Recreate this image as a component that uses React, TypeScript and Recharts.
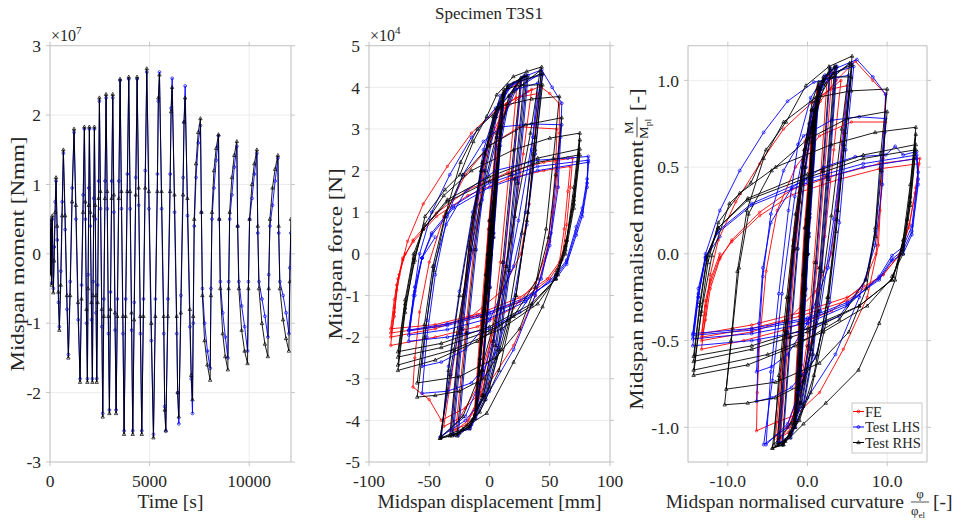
import React from 'react';
import { ScatterChart, Scatter, XAxis, YAxis, CartesianGrid } from 'recharts';

const FONT = '"Liberation Serif", "Times New Roman", serif';
const AX = '#c4c4c4';
const GRID = '#ececec';
const TXT = '#262626';

// ---------- Panel 1: time vs midspan moment (x10^7 Nmm) ----------
const timeTicks = [0, 5000, 10000];
const momentTicks = [-3, -2, -1, 0, 1, 2, 3];
const rhsTimeMoment = [
  0,0, 15,0.35, 30,-0.3, 50,0.5, 80,-0.45, 117,0.55, 167,-0.56,
  210,-0.1, 260,0.6, 302,1.1, 360,0.4, 420,-0.55, 469,-1.1,
  540,-0.45, 610,0.55, 670,1.5, 760,0.55, 850,-0.6, 921,-1.5,
  1010,-0.6, 1110,0.75, 1206,1.8, 1300,0.7, 1410,-0.7, 1508,-1.85,
  1580,-0.65, 1660,0.6, 1725,1.83, 1775,0.75, 1830,-0.8, 1876,-1.85,
  1910,-0.5, 1945,0.7, 1976,1.83, 2025,0.6, 2080,-0.7, 2127,-1.85,
  2160,-0.6, 2195,0.55, 2228,1.83, 2270,0.7, 2310,-0.6, 2345,-1.85,
  2390,-0.7, 2440,0.8, 2479,2.25, 2535,0.9, 2600,-0.8, 2647,-2.35,
  2700,-0.9, 2760,0.8, 2814,2.3, 2870,0.9, 2930,-0.9, 2982,-2.3,
  3035,-0.8, 3095,0.8, 3149,2.3, 3205,0.85, 3265,-0.85, 3317,-2.3,
  3380,-0.9, 3455,0.8, 3518,2.52, 3585,0.9, 3660,-0.9, 3719,-2.6,
  3795,-0.9, 3880,0.9, 3953,2.55, 4020,0.9, 4095,-0.85, 4154,-2.6,
  4225,-0.95, 4305,0.85, 4372,2.55, 4450,0.95, 4535,-0.9, 4606,-2.6,
  4690,-0.9, 4780,0.95, 4858,2.67, 4965,0.9, 5085,-1.0, 5193,-2.65,
  5290,-0.9, 5390,0.9, 5440,2.25, 5494,2.58, 5600,0.9, 5710,-0.9, 5760,-2.25, 5812,-2.55,
  5920,-0.9, 6030,0.9, 6080,2.05, 6131,2.4, 6250,0.85, 6360,-0.9, 6410,-2.0, 6466,-2.35,
  6570,-0.85, 6680,0.85, 6730,1.9, 6784,2.25, 6900,0.8, 7020,-0.8, 7090,-1.75, 7152,-2.1,
  7190,-0.9, 7240,0.5, 7330,1.3, 7440,1.75, 7554,1.95,
  7600,0.6, 7650,-0.6, 7760,-1.25, 7900,-1.6, 8040,-1.82,
  8080,-0.6, 8130,0.6, 8230,1.2, 8340,1.52, 8459,1.72,
  8500,0.5, 8550,-0.5, 8670,-1.15, 8800,-1.48, 8928,-1.67,
  8970,-0.5, 9020,0.6, 9130,1.1, 9250,1.42, 9380,1.62,
  9420,0.4, 9480,-0.5, 9620,-1.1, 9770,-1.4, 9916,-1.58,
  9960,-0.5, 10020,0.5, 10140,1.0, 10260,1.3, 10385,1.5,
  10430,0.4, 10490,-0.5, 10640,-1.0, 10790,-1.3, 10938,-1.48,
  10980,-0.5, 11040,0.5, 11170,0.95, 11300,1.22, 11440,1.42,
  11480,0.4, 11540,-0.5, 11700,-0.95, 11850,-1.22, 11993,-1.4,
  12040,-0.4, 12094,0.5,
];
const lhsTimeMoment = [
  0,0, 16,0.3, 32,-0.28, 52,0.45, 82,-0.42, 120,0.5, 170,-0.5,
  213,0.1, 263,0.75, 305,1.05, 363,0.2, 423,-0.7, 472,-1.05,
  543,-0.25, 613,0.75, 673,1.45, 763,0.35, 853,-0.8, 924,-1.45,
  1013,-0.4, 1113,0.95, 1209,1.75, 1303,0.5, 1413,-0.95, 1511,-1.8,
  1583,-0.45, 1663,0.85, 1728,1.8, 1778,0.5, 1833,-1.0, 1879,-1.8,
  1913,-0.3, 1948,0.95, 1979,1.8, 2028,0.4, 2083,-0.95, 2130,-1.8,
  2163,-0.4, 2198,0.8, 2231,1.8, 2273,0.5, 2313,-0.85, 2348,-1.8,
  2393,-0.45, 2443,1.05, 2482,2.2, 2538,0.65, 2603,-1.05, 2650,-2.3,
  2703,-0.65, 2763,1.05, 2817,2.25, 2873,0.65, 2933,-1.15, 2985,-2.25,
  3038,-0.55, 3098,1.05, 3152,2.25, 3208,0.6, 3268,-1.1, 3320,-2.25,
  3383,-0.65, 3458,1.05, 3521,2.5, 3588,0.65, 3663,-1.15, 3722,-2.55,
  3798,-0.65, 3883,1.15, 3956,2.52, 4023,0.65, 4098,-1.1, 4157,-2.55,
  4228,-0.7, 4308,1.1, 4375,2.52, 4453,0.7, 4538,-1.15, 4609,-2.55,
  4693,-0.65, 4783,1.2, 4861,2.62, 4968,0.65, 5088,-1.25, 5196,-2.6,
  5293,-0.65, 5393,1.15, 5440,2.2, 5497,2.62, 5603,0.65, 5713,-1.15, 5760,-2.2, 5815,-2.55,
  5923,-0.65, 6033,1.15, 6080,2.1, 6134,2.53, 6253,0.6, 6363,-1.15, 6410,-2.0, 6469,-2.45,
  6573,-0.6, 6683,1.1, 6730,1.9, 6787,2.42, 6903,0.55, 7023,-1.05, 7090,-1.8, 7155,-2.3,
  7193,-1.0, 7243,0.4, 7333,1.1, 7443,1.6, 7557,1.85,
  7603,0.6, 7653,-0.5, 7763,-1.0, 7903,-1.4, 8043,-1.65,
  8083,-0.5, 8133,0.5, 8233,0.95, 8343,1.35, 8462,1.7,
  8503,0.5, 8553,-0.4, 8673,-0.85, 8803,-1.2, 8931,-1.5,
  8973,-0.4, 9023,0.5, 9133,0.85, 9253,1.25, 9383,1.55,
  9423,0.4, 9483,-0.4, 9623,-0.75, 9773,-1.05, 9919,-1.4,
  9963,-0.4, 10023,0.5, 10143,0.8, 10263,1.15, 10388,1.45,
  10433,0.3, 10493,-0.4, 10643,-0.65, 10793,-0.9, 10941,-1.2,
  10983,-0.3, 11043,0.4, 11173,0.7, 11303,1.05, 11443,1.38,
  11483,0.3, 11543,-0.4, 11703,-0.6, 11853,-0.85, 11996,-1.15,
  12043,-0.2, 12094,0.3,
];

// ---------- Panel 2: displacement (mm) vs force (x10^4 N) ----------
const dispTicks = [-100, -50, 0, 50, 100];
const forceTicks = [-5, -4, -3, -2, -1, 0, 1, 2, 3, 4, 5];
const rhsDispForce = [
  0,0, 2.5,0.84, 0.4,0, -2.5,-0.84, -0.4,0, 2.8,0.92, 0.4,0, -2.9,-0.94, -0.5,0,
  5.6,1.85, 0.6,0, -5.8,-1.85, -0.8,0, 7.6,2.52, 0.8,0, -8,-2.52, -1,0,
  9.2,3.02, 1,0, -9.6,-3.1, -1.2,0, 9.4,3.07, 1.1,0, -9.8,-3.1, -1.3,0,
  5,1.8, 11.5,3.78, 3,0.5, 0,-0.8, -6,-2.8, -12,-3.95, -3,-0.5, 0,0.8, 6,2.8, 11.8,3.86,
  3,0.4, -6,-2.8, -12.2,-3.86,
  -6,-1.5, 0,0.6, 8,2.6, 16,3.8, 26,4.23,
  18,1.9, 11,-0.2, 3,-2.1, -6,-3.4, -16,-4.1, -27,-4.37,
  -19,-1.9, -12,0.1, -4,2.0, 5,3.3, 15,4.0, 29,4.28,
  21,1.8, 14,-0.3, 5,-2.2, -5,-3.4, -17,-4.15, -31,-4.37,
  -23,-1.8, -16,0.1, -7,2.0, 3,3.3, 15,4.05, 31,4.28,
  23,1.7, 16,-0.4, 7,-2.3, -4,-3.5, -17,-4.2, -33,-4.37,
  -25,-1.9, -17,0.2, -6,2.2, 8,3.5, 25,4.15, 44,4.33,
  36,2.4, 27,0.5, 15,-1.6, 0,-3.2, -15,-4.0, -28,-4.35, -41,-4.43,
  -33,-2.9, -22,-1.0, -8,1.2, 6,2.9, 20,3.9, 42,4.4,
  34,2.9, 21,0.9, 7,-1.3, -8,-2.9, -22,-3.9, -40,-4.4,
  -34,-2.8, -25,-1.0, -14,0.9, -4,2.4, 6,3.5, 12,3.95, 25,4.05, 44,4.06,
  38,2.5, 31,0.8, 22,-1.0, 10,-2.3, -5,-3.0, -25,-3.3, -45,-3.4, -60,-3.44,
  -54,-2.0, -46,-0.4, -36,1.0, -24,2.2, -10,3.0, 10,3.55, 35,3.72, 58,3.78,
  53,2.3, 47,0.6, 38,-0.8, 25,-1.8, 5,-2.5, -25,-2.95, -60,-3.1,
  -54,-1.7, -47,-0.3, -37,0.9, -22,1.9, 0,2.6, 30,3.1, 60,3.27,
  55,1.9, 49,0.4, 40,-0.6, 20,-1.5, -10,-2.1, -45,-2.55, -76,-2.8,
  -70,-1.4, -63,-0.2, -54,0.7, -38,1.4, -15,2.0, 20,2.5, 50,2.78, 75,2.9,
  70,1.6, 64,0.33, 57,-0.5, 40,-1.2, 10,-1.8, -30,-2.3, -76,-2.67,
  -70,-1.3, -62,-0.15, -53.5,0.9, -37,1.54, -24.5,1.9, -13.4,2.7, -2.3,3.3, 6,3.82, 19.8,4.26, 30.9,4.38, 43.3,4.49,
  38,2.8, 32,1.0, 22,-1.0, 8,-2.8, -8,-3.8, -25,-4.3, -41,-4.43,
  -22,-4.2, -2.3,-3.83, 20,-2.6, 44,-1.27, 56,-0.4, 64,0.33, 70,1.4, 75,2.74,
  70,1.3, 63,0.2, 55,-0.6, 35,-1.25, 0,-1.85, -40,-2.25, -76,-2.48,
  -70,-1.2, -63,-0.1, -55,0.6, -35,1.3, 0,1.85, 40,2.3, 75,2.52,
  70,1.2, 63,0.1, 55,-0.6, 35,-1.2, 0,-1.75, -40,-2.15, -76,-2.35,
  -70,-1.1, -63,0, -55,0.6, -35,1.25, 0,1.75, 40,2.2, 75,2.38,
  70,1.1, 63,0, 55,-0.5,
];
const lhsDispForce = [
  0,0, 2.6,0.84, 0.6,0, -2.4,-0.84, -0.3,0, 2.9,0.92, 0.6,0, -2.8,-0.94, -0.3,0,
  5.8,1.85, 0.8,0, -5.6,-1.85, -0.6,0, 7.8,2.52, 1,0, -7.8,-2.52, -0.8,0,
  9.5,3.02, 1.2,0, -9.3,-3.1, -1,0, 9.7,3.07, 1.3,0, -9.5,-3.1, -1.1,0,
  5.5,1.8, 12,3.78, 3.5,0.5, 0.5,-0.8, -5.5,-2.8, -11.5,-3.95, -2.5,-0.5, 0.5,0.8, 6.5,2.8, 12.3,3.86,
  3.5,0.4, -5.5,-2.8, -11.8,-3.86,
  -5,-1.5, 1,0.6, 9,2.6, 17,3.8, 27,4.23,
  19,1.9, 12,-0.2, 4,-2.1, -5,-3.4, -15,-4.1, -26,-4.37,
  -18,-1.9, -11,0.1, -3,2.0, 6,3.3, 16,4.0, 30,4.3,
  22,1.8, 15,-0.3, 6,-2.2, -4,-3.4, -16,-4.15, -30,-4.35,
  -22,-1.8, -15,0.1, -6,2.0, 4,3.3, 16,4.05, 32,4.28,
  24,1.7, 17,-0.4, 8,-2.3, -3,-3.5, -16,-4.2, -32,-4.35,
  -24,-1.8, -16,0.4, -5,2.5, 9,3.8, 28,4.25, 43.3,4.42, 52,4.0, 60,3.62,
  59,2.8, 57,1.6, 50,0.2, 38,-1.0, 20,-2.3, 0,-3.3, -20,-4.0, -41,-4.4,
  -32,-2.9, -20,-0.9, -6,1.3, 8,3.0, 22,3.95, 43,4.35,
  36,2.8, 24,0.8, 10,-1.3, -5,-2.9, -20,-3.9, -40,-4.38,
  -34,-2.7, -25,-0.9, -14,1.0, -3,2.5, 8,3.6, 20,4.1, 44,4.3,
  38,2.4, 31,0.7, 20,-1.1, 5,-2.4, -15,-3.1, -35,-3.3, -56,-3.35,
  -52,-2.0, -45,-0.5, -35,0.9, -22,1.9, -5,2.7, 10,3.05, 35,3.12, 60,3.1,
  56,2.0, 51,0.5, 43,-0.6, 25,-1.4, 0,-1.8, -35,-2.0, -67,-2.1,
  -63,-1.0, -58,0, -48,1.0, -33,1.9, -15,2.8, 5,3.5, 22,3.95, 40,4.1,
  35,2.5, 30,1.0, 20,-0.3, 0,-1.6, -20,-2.3, -40,-2.6, -56,-2.7,
  -52,-1.6, -46,-0.3, -36,0.7, -20,1.5, 5,2.0, 40,2.25, 65,2.3, 82,2.34,
  81,1.8, 77,1.1, 72,0.65, 64,-0.15, 55,-0.5, 30,-1.15, 0,-1.55, -35,-1.82, -67,-1.95,
  -62,-1.0, -56,-0.1, -48,0.5, -30,1.15, 0,1.7, 40,2.1, 82,2.25,
  81,1.7, 77,1.0, 72,0.55, 64,-0.2, 55,-0.55, 30,-1.1, 0,-1.45, -35,-1.72, -67,-1.85,
  -62,-0.9, -56,-0.1, -48,0.45, -30,1.1, 0,1.6, 40,2.0, 82,2.2,
  81,1.6, 77,0.9, 72,0.45, 64,-0.25, 55,-0.6, 30,-1.05, 0,-1.4, -35,-1.68, -67,-1.83,
  -62,-0.8, -56,-0.1, -45,0.4,
];
const feDispForce = [
  0,0, 2.4,0.84, 0.3,0, -2.6,-0.84, -0.5,0, 2.7,0.92, 0.3,0, -3,-0.94, -0.6,0,
  5.4,1.85, 0.5,0, -6,-1.85, -0.9,0, 7.4,2.52, 0.7,0, -8.2,-2.52, -1.1,0,
  9,3.02, 0.9,0, -9.8,-3.1, -1.3,0,
  4.5,1.8, 11,3.78, 2.5,0.5, -0.5,-0.8, -6.5,-2.8, -12.5,-3.95, -3.5,-0.5, -0.5,0.8, 5.5,2.8, 11.3,3.86,
  2.5,0.4, -6.5,-2.8, -12.7,-3.86,
  -7,-1.5, -1,0.6, 7,2.6, 14,3.6, 23,4.1,
  16,1.9, 9,-0.2, 1,-2.1, -8,-3.4, -18,-4.0, -28,-4.25,
  -20,-1.9, -13,0.1, -5,2.0, 4,3.3, 13,3.9, 26,4.15,
  19,1.8, 12,-0.3, 3,-2.2, -7,-3.4, -19,-4.1, -32,-4.25,
  -24,-1.8, -14,0.6, -2,2.6, 14,3.6, 35,3.95, 28,2.4, 18,0.4, 5,-1.7, -10,-3.2, -25,-3.95, -38,-4.15,
  -26,-1.9, -16,0.3, -4,2.4, 14,3.5, 32,3.9, 42,4.02, 50,3.85, 58,3.6,
  58,2.9, 56,1.6, 50,0.3, 38,-1.0, 20,-2.2, 0,-3.1, -20,-3.7, -40,-4.0, -50,-3.5, -63.5,-3.2,
  -62,-2.5, -58,-1.4, -50,-0.2, -38,0.9, -20,1.9, 0,2.6, 25,3.05, 56,3.0,
  55,2.2, 52,1.0, 47,0.0, 38,-0.7, 20,-1.3, -10,-1.75, -45,-2.0, -82,-2.2,
  -79,-1.4, -75,-0.5, -68,0.3, -55,1.2, -35,2.1, -15,2.9, 5,3.45, 22,3.75, 40,3.85,
  37,2.6, 33,1.2, 26,0, 10,-0.9, -15,-1.5, -45,-1.8, -82,-2.0,
  -79,-1.5, -77,-0.87, -72,-0.15, -63.5,0.33, -44,0.98, -18,1.54, 15,1.95, 45,2.2, 69,2.3,
  67,1.6, 64,0.7, 60,-0.15, 50,-0.6, 25,-1.15, -10,-1.5, -45,-1.75, -82,-1.9,
  -79,-1.3, -77,-0.75, -72,-0.1, -63,0.3, -44,0.9, -18,1.4, 15,1.8, 45,2.0, 67,2.1,
  65,1.5, 62,0.6, 58,-0.2, 48,-0.6, 25,-1.05, -10,-1.45, -45,-1.7, -82,-1.8,
  -79,-1.1, -76,-0.6, -70,0,
];

// ---------- Panel 3: normalised curvature vs normalised moment ----------
const curvTicks = [-10, 0, 10];
const normMomentTicks = [-1, -0.5, 0, 0.5, 1];
const rhsCurvMoment = [
  0,0, 0.2,0.21, -0.1,0, -0.4,-0.21, -0.1,0, 0.2,0.23, -0.1,0, -0.4,-0.24, -0.1,0,
  0.4,0.47, -0.1,0, -0.7,-0.47, -0.2,0, 0.6,0.64, -0.1,0, -0.9,-0.64, -0.3,0,
  0.7,0.76, -0.1,0, -1.1,-0.78, -0.3,0, 0.8,0.77, -0.1,0, -1.2,-0.78, -0.3,0,
  0.3,0.45, 1.3,0.95, 0.1,0.12, -0.3,-0.2, -0.9,-0.7, -1.6,-1.0, -0.5,-0.12, -0.1,0.2, 0.6,0.7, 1.4,0.97,
  0.1,0.1, -0.9,-0.7, -1.7,-0.97,
  -1.0,-0.4, -0.3,0.15, 0.6,0.65, 1.6,0.95, 2.8,1.07,
  1.9,0.48, 1.0,-0.05, 0.1,-0.53, -1.0,-0.86, -2.2,-1.03, -3.2,-1.1,
  -2.2,-0.48, -1.3,0.03, -0.3,0.5, 0.8,0.83, 2.0,1.0, 3.4,1.08,
  2.4,0.45, 1.5,-0.08, 0.4,-0.55, -0.8,-0.86, -2.2,-1.04, -3.6,-1.1,
  -2.6,-0.45, -1.7,0.03, -0.6,0.5, 0.5,0.83, 2.0,1.02, 3.6,1.08,
  2.6,0.43, 1.7,-0.1, 0.6,-0.58, -0.6,-0.88, -2.2,-1.06, -3.8,-1.1,
  -2.8,-0.48, -1.8,0.05, -0.5,0.55, 1.2,0.88, 3.2,1.04, 5.6,1.09,
  4.6,0.6, 3.6,0.13, 2.3,-0.4, 0.4,-0.8, -1.6,-1.0, -3.0,-1.1, -4.4,-1.12,
  -3.5,-0.72, -2.4,-0.25, -1.0,0.3, 0.5,0.73, 2.2,0.98, 5.3,1.1,
  4.3,0.72, 3.0,0.22, 1.4,-0.33, -0.4,-0.73, -2.1,-0.98, -4.2,-1.1,
  -3.6,-0.7, -2.6,-0.25, -1.5,0.23, -0.4,0.6, 0.6,0.88, 1.4,0.99, 3.0,1.02, 5.5,1.02,
  4.6,0.63, 3.7,0.2, 2.6,-0.25, 1.2,-0.58, -1.0,-0.76, -4,-0.83, -7.5,-0.86, -10.4,-0.87,
  -9.6,-0.5, -8.8,-0.1, -7.6,0.25, -5.5,0.55, -3,0.76, 1,0.9, 5.5,0.94, 10,0.95,
  9.2,0.58, 8.5,0.15, 7.4,-0.2, 5.2,-0.45, 1.5,-0.63, -4,-0.74, -10.2,-0.78,
  -9.4,-0.43, -8.6,-0.08, -7.4,0.23, -4.5,0.48, 0,0.66, 5,0.78, 10,0.82,
  9.3,0.48, 8.5,0.1, 7.3,-0.15, 4,-0.38, -1.5,-0.53, -7.5,-0.64, -14.3,-0.7,
  -13.4,-0.35, -12.5,-0.05, -11.2,0.18, -8.5,0.35, -4,0.5, 3,0.63, 8.5,0.7, 13.6,0.73,
  12.9,0.4, 12,0.08, 10.8,-0.13, 7.5,-0.3, 2,-0.45, -5,-0.58, -14.3,-0.67,
  -13.3,-0.33, -12,-0.01, -9.8,0.29, -7.1,0.41, -5.2,0.6, -2.7,0.76, -0.2,0.97, 2.7,1.08, 5.6,1.14,
  4.7,0.7, 3.8,0.25, 2.5,-0.25, 0.8,-0.7, -1,-0.96, -2.8,-1.08, -4.4,-1.12,
  -3.1,-1.1, -0.5,-0.98, 2.3,-0.86, 6.4,-0.67, 9,-0.4, 11,-0.15, 12.5,0.2, 13.6,0.69,
  12.9,0.33, 12,0.05, 10.6,-0.15, 6.5,-0.3, 0,-0.45, -7,-0.55, -14.3,-0.62,
  -13.5,-0.3, -12.6,-0.03, -11.2,0.15, -7.5,0.32, 0,0.46, 7,0.57, 13.6,0.63,
  12.9,0.3, 12,0.03, 10.6,-0.15, 6.5,-0.3, 0,-0.43, -7,-0.53, -14.3,-0.59,
  -13.5,-0.28, -12.6,-0.01, -11.2,0.15, -7.5,0.31, 0,0.44, 7,0.55, 13.6,0.6,
  12.9,0.28, 12,0, 10.6,-0.13,
];
const lhsCurvMoment = [
  0,0, 0.3,0.21, 0,0, -0.3,-0.21, 0,0, 0.3,0.23, 0,0, -0.3,-0.24, 0,0,
  0.5,0.47, 0,0, -0.6,-0.47, -0.1,0, 0.7,0.64, 0,0, -0.8,-0.64, -0.2,0,
  0.8,0.76, 0,0, -1,-0.78, -0.2,0, 0.9,0.77, 0,0, -1,-0.78, -0.2,0,
  0.4,0.45, 1.4,0.95, 0.2,0.12, -0.2,-0.2, -0.8,-0.7, -1.5,-1.0, -0.4,-0.12, 0,0.2, 0.7,0.7, 1.5,0.97,
  0.2,0.1, -0.8,-0.7, -1.6,-0.97,
  -0.9,-0.4, -0.2,0.15, 0.7,0.65, 1.7,0.95, 2.9,1.07,
  2.0,0.48, 1.1,-0.05, 0.2,-0.53, -0.9,-0.86, -2.1,-1.03, -3.1,-1.1,
  -2.1,-0.48, -1.2,0.03, -0.2,0.5, 0.9,0.83, 2.1,1.0, 3.5,1.08,
  2.5,0.45, 1.6,-0.08, 0.5,-0.55, -0.7,-0.86, -2.1,-1.04, -3.5,-1.09,
  -2.5,-0.45, -1.6,0.03, -0.5,0.5, 0.6,0.83, 2.1,1.02, 3.7,1.08,
  2.7,0.43, 1.8,-0.1, 0.7,-0.58, -0.5,-0.88, -2.1,-1.06, -3.7,-1.09,
  -2.6,-0.45, -1.6,0.1, -0.3,0.6, 1.4,0.93, 3.6,1.07, 6.2,1.12, 8.2,1.02, 9.8,0.92,
  9.7,0.7, 9.4,0.4, 8.5,0.05, 6.5,-0.25, 3.5,-0.58, 0,-0.83, -2.5,-1.0, -5.5,-1.1,
  -4.4,-0.73, -3.2,-0.23, -1.6,0.33, 0.2,0.75, 2,1.0, 5.6,1.1,
  4.6,0.7, 3.3,0.2, 1.6,-0.33, -0.5,-0.73, -2.5,-0.98, -5.2,-1.1,
  -4.6,-0.68, -3.6,-0.23, -2.4,0.25, -1.2,0.63, 0.4,0.9, 2.2,1.03, 5.8,1.08,
  4.8,0.6, 4,0.18, 2.8,-0.28, 1,-0.6, -2,-0.77, -4.5,-0.83, -6.4,-0.85,
  -6.1,-0.5, -5.6,-0.13, -4.6,0.23, -3,0.48, -0.5,0.68, 3,0.77, 6.5,0.79, 9.8,0.78,
  9.2,0.5, 8.5,0.13, 7.3,-0.15, 4,-0.36, -1,-0.45, -7,-0.5, -14.4,-0.53,
  -13.7,-0.25, -12.8,0, -11,0.25, -8.5,0.48, -5.5,0.7, -2.5,0.88, 0.8,0.99, 5.2,1.03,
  4.4,0.63, 3.7,0.25, 2.6,-0.08, 0,-0.4, -2.5,-0.58, -4.5,-0.65, -6.4,-0.68,
  -6.1,-0.4, -5.6,-0.08, -4.6,0.18, -2,0.38, 2,0.5, 6,0.56, 9.8,0.57, 11,0.62, 12,0.57, 13.7,0.59,
  13.9,0.47, 13.1,0.16, 12,0.04, 10.6,-0.01, 9,-0.13, 5,-0.3, 0,-0.4, -7,-0.46, -14.4,-0.49,
  -13.7,-0.25, -12.8,-0.03, -11.3,0.13, -7,0.29, 0,0.43, 7,0.52, 13.7,0.57,
  13.9,0.43, 13.1,0.13, 12,0.02, 10.6,-0.03, 9,-0.14, 5,-0.29, 0,-0.38, -7,-0.44, -14.4,-0.47,
  -13.7,-0.23, -12.8,-0.02, -11.3,0.12, -7,0.28, 0,0.41, 7,0.5, 13.7,0.55,
  13.9,0.4, 13.1,0.11, 12,0, 10.6,-0.04, 9,-0.15, 5,-0.28, 0,-0.37, -7,-0.43, -14.4,-0.46,
  -13.7,-0.2, -12.8,-0.02, -11,0.1,
];
const feCurvMoment = [
  0,0, 0.1,0.21, -0.2,0, -0.5,-0.21, -0.2,0, 0.1,0.23, -0.2,0, -0.5,-0.24, -0.2,0,
  0.3,0.47, -0.2,0, -0.8,-0.47, -0.3,0, 0.5,0.64, -0.2,0, -1,-0.64, -0.4,0,
  0.6,0.76, -0.2,0, -1.2,-0.78, -0.4,0,
  0.2,0.45, 1.2,0.95, 0,0.12, -0.4,-0.2, -1,-0.7, -1.7,-1.0, -0.6,-0.12, -0.2,0.2, 0.5,0.7, 1.3,0.97,
  0,0.1, -1,-0.7, -1.8,-0.97,
  -1.1,-0.4, -0.4,0.15, 0.5,0.65, 1.4,0.93, 2.5,1.03,
  1.7,0.48, 0.8,-0.05, -0.1,-0.53, -1.2,-0.86, -2.4,-1.0, -3.4,-1.07,
  -2.4,-0.48, -1.5,0.03, -0.5,0.5, 0.6,0.83, 1.8,0.98, 3.1,1.05,
  2.1,0.45, 1.2,-0.08, 0.1,-0.55, -1.0,-0.86, -2.4,-1.03, -3.8,-1.07,
  -2.8,-0.45, -1.6,0.15, -0.3,0.65, 1.4,0.9, 4.2,1.0, 3.3,0.6, 2.2,0.1, 0.8,-0.43, -1,-0.8, -2.6,-1.0, -4.0,-1.05,
  -2.9,-0.48, -1.8,0.08, -0.4,0.6, 1.6,0.88, 3.6,1.0, 6.0,1.11, 8.2,1.0, 9.8,0.92,
  9.6,0.7, 9.3,0.4, 8.9,0.05, 7.5,-0.25, 4.5,-0.55, 1.5,-0.8, -1.5,-0.93, -3.9,-0.97, -6.4,-1.02,
  -6.3,-0.8, -6.0,-0.5, -5.2,-0.1, -3.8,0.25, -1.5,0.5, 1.5,0.68, 5.5,0.76, 9.8,0.76,
  9.5,0.55, 9.1,0.25, 8.6,0, 7,-0.18, 3,-0.33, -3,-0.44, -8,-0.5, -13.3,-0.55,
  -12.8,-0.35, -12.2,-0.12, -11.2,0.08, -9,0.3, -6,0.52, -3,0.72, 0.5,0.87, 3,0.95, 5.0,0.97,
  4.3,0.65, 3.7,0.3, 3,0, 1,-0.22, -2.5,-0.38, -7,-0.45, -13.3,-0.5,
  -12.8,-0.38, -12.2,-0.2, -11,-0.03, -9.5,0.08, -6,0.24, -2,0.37, 4,0.46, 9,0.52, 14.1,0.55,
  13.6,0.38, 12.8,0.17, 11.6,0, 9.5,-0.12, 5,-0.27, -1,-0.36, -7,-0.43, -13.3,-0.48,
  -12.8,-0.3, -12.2,-0.17, -11,-0.02, -9.5,0.07, -6,0.22, -2,0.34, 4,0.43, 9,0.49, 14,0.52,
  13.5,0.35, 12.7,0.15, 11.5,-0.01, 9.5,-0.12, 5,-0.25, -1,-0.34, -7,-0.41, -13.3,-0.46,
  -12.8,-0.27, -12.2,-0.15, -11,0,
];

// reshape flat [x, y, x, y, ...] lists into point objects
const toPoints = (flat: number[]) => {
  const out: { x: number; y: number }[] = [];
  for (let i = 0; i + 1 < flat.length; i += 2) out.push({ x: flat[i], y: flat[i + 1] });
  return out;
};

const COLORS = { fe: '#ff0000', lhs: '#0000ff', rhs: '#000000' };

const triShape = (color: string) => (p: any) => {
  const { cx, cy } = p;
  if (cx == null || cy == null) return <g />;
  return (
    <path
      d={`M${cx},${cy - 1.9}L${cx + 1.7},${cy + 1.2}L${cx - 1.7},${cy + 1.2}Z`}
      fill="none"
      stroke={color}
      strokeWidth={0.7}
    />
  );
};
const circShape = (color: string, r: number) => (p: any) => {
  const { cx, cy } = p;
  if (cx == null || cy == null) return <g />;
  return <circle cx={cx} cy={cy} r={r} fill="none" stroke={color} strokeWidth={0.7} />;
};

type Series = { data: number[]; color: string; shape: any };

const tickStyle = { fill: TXT, fontSize: 17.5, fontFamily: FONT };
const blank = () => '';

function Panel(props: {
  left: number;
  width: number;
  rightPad: number;
  xDomain: [number, number];
  xTicks: number[];
  yDomain: [number, number];
  yTicks: number[];
  xFmt?: (v: number) => string;
  yFmt?: (v: number) => string;
  series: Series[];
}) {
  const { left, width, rightPad, xDomain, xTicks, yDomain, yTicks, xFmt, yFmt, series } = props;
  return (
    <div style={{ position: 'absolute', left, top: 0, fontFamily: FONT }}>
      <ScatterChart width={width} height={520} margin={{ top: 40.7, right: rightPad, bottom: 0, left: 0 }}>
        <CartesianGrid xAxisId="b" yAxisId="l" stroke={GRID} strokeWidth={1} />
        <XAxis
          xAxisId="b"
          type="number"
          dataKey="x"
          domain={xDomain}
          ticks={xTicks}
          interval={0}
          allowDataOverflow
          height={58}
          tickSize={4}
          tickMargin={9}
          tickFormatter={xFmt}
          stroke={AX}
          tick={tickStyle}
        />
        <XAxis
          xAxisId="t"
          orientation="top"
          type="number"
          dataKey="x"
          domain={xDomain}
          ticks={xTicks}
          interval={0}
          allowDataOverflow
          height={5}
          tickSize={4}
          tickFormatter={blank}
          stroke={AX}
        />
        <YAxis
          yAxisId="l"
          type="number"
          dataKey="y"
          domain={yDomain}
          ticks={yTicks}
          interval={0}
          allowDataOverflow
          width={50}
          tickSize={4}
          tickMargin={5}
          tickFormatter={yFmt}
          stroke={AX}
          tick={tickStyle}
        />
        <YAxis
          yAxisId="r"
          orientation="right"
          type="number"
          dataKey="y"
          domain={yDomain}
          ticks={yTicks}
          interval={0}
          allowDataOverflow
          width={5}
          tickSize={4}
          tickFormatter={blank}
          stroke={AX}
        />
        {series.map((s, i) => (
          <Scatter
            key={i}
            xAxisId="b"
            yAxisId="l"
            data={toPoints(s.data)}
            fill={s.color}
            line={{ stroke: s.color, strokeWidth: 0.9 }}
            lineType="joint"
            shape={s.shape}
            isAnimationActive={false}
          />
        ))}
      </ScatterChart>
    </div>
  );
}

const fmt1 = (v: number) => v.toFixed(1);

export default function App() {
  const legendRows = [
    { label: 'FE', color: COLORS.fe, kind: 'c' },
    { label: 'Test LHS', color: COLORS.lhs, kind: 'c' },
    { label: 'Test RHS', color: COLORS.rhs, kind: 't' },
  ];
  return (
    <div
      style={{
        position: 'absolute',
        left: 0,
        top: 0,
        width: 963,
        height: 520,
        background: '#fff',
        overflow: 'hidden',
        fontFamily: FONT,
      }}
    >
      <Panel
        left={0}
        width={296}
        rightPad={0}
        xDomain={[0, 12100]}
        xTicks={timeTicks}
        yDomain={[-3, 3]}
        yTicks={momentTicks}
        series={[
          { data: lhsTimeMoment, color: COLORS.lhs, shape: circShape(COLORS.lhs, 1.4) },
          { data: rhsTimeMoment, color: COLORS.rhs, shape: triShape(COLORS.rhs) },
        ]}
      />
      <Panel
        left={319}
        width={312}
        rightPad={16}
        xDomain={[-100, 100]}
        xTicks={dispTicks}
        yDomain={[-5, 5]}
        yTicks={forceTicks}
        series={[
          { data: feDispForce, color: COLORS.fe, shape: circShape(COLORS.fe, 1.2) },
          { data: lhsDispForce, color: COLORS.lhs, shape: circShape(COLORS.lhs, 1.4) },
          { data: rhsDispForce, color: COLORS.rhs, shape: triShape(COLORS.rhs) },
        ]}
      />
      <Panel
        left={638}
        width={310}
        rightPad={16}
        xDomain={[-15, 15]}
        xTicks={curvTicks}
        yDomain={[-1.2, 1.2]}
        yTicks={normMomentTicks}
        xFmt={fmt1}
        yFmt={fmt1}
        series={[
          { data: feCurvMoment, color: COLORS.fe, shape: circShape(COLORS.fe, 1.2) },
          { data: lhsCurvMoment, color: COLORS.lhs, shape: circShape(COLORS.lhs, 1.4) },
          { data: rhsCurvMoment, color: COLORS.rhs, shape: triShape(COLORS.rhs) },
        ]}
      />
      <svg
        width={963}
        height={520}
        style={{ position: 'absolute', left: 0, top: 0, pointerEvents: 'none', fontFamily: FONT }}
        fill={TXT}
      >
        <text x={489} y={19} fontSize={17} textAnchor="middle">Specimen T3S1</text>
        <text x={51} y={41} fontSize={16}>×10<tspan dy={-7} fontSize={11}>7</tspan></text>
        <text x={370} y={41} fontSize={16}>×10<tspan dy={-7} fontSize={11}>4</tspan></text>

        <text x={170.5} y={508} fontSize={19.5} textAnchor="middle">Time [s]</text>
        <text x={489.5} y={508} fontSize={19.5} textAnchor="middle">Midspan displacement [mm]</text>
        <text x={904} y={508} fontSize={19.5} textAnchor="end">Midspan normalised curvature</text>
        <text x={920} y={498} fontSize={13} textAnchor="middle">φ</text>
        <line x1={911} x2={929} y1={502} y2={502} stroke={TXT} strokeWidth={0.8} />
        <text x={918} y={515} fontSize={13} textAnchor="middle">φ<tspan dy={3} fontSize={9}>el</tspan></text>
        <text x={933} y={508} fontSize={19.5}>[-]</text>

        <g transform="translate(17,254) rotate(-90) scale(1.18,1)">
          <text x={0} y={6.5} fontSize={19.5} textAnchor="middle">Midspan moment [Nmm]</text>
        </g>
        <g transform="translate(335,254) rotate(-90) scale(1.18,1)">
          <text x={0} y={6.5} fontSize={19.5} textAnchor="middle">Midspan force [N]</text>
        </g>
        <g transform="translate(636,254) rotate(-90) scale(1.18,1)">
          <text x={-132} y={6.5} fontSize={19.5}>Midspan normalised moment</text>
          <text x={107} y={-3} fontSize={12} textAnchor="middle">M</text>
          <line x1={99} x2={116} y1={1} y2={1} stroke={TXT} strokeWidth={0.8} />
          <text x={106} y={12} fontSize={12} textAnchor="middle">M<tspan dy={3} fontSize={8}>pl</tspan></text>
          <text x={121} y={6.5} fontSize={19.5}>[-]</text>
        </g>

        <rect x={852} y={403} width={70} height={50} fill="#fff" stroke="#c8c8c8" strokeWidth={1} />
        {legendRows.map((r, i) => {
          const y = 411.5 + i * 15.5;
          return (
            <g key={r.label}>
              <line x1={853} x2={864} y1={y} y2={y} stroke={r.color} strokeWidth={1} />
              {r.kind === 'c' ? (
                <circle cx={858.5} cy={y} r={1.4} fill="none" stroke={r.color} strokeWidth={0.8} />
              ) : (
                <path d={`M858.5,${y - 1.9}L860.2,${y + 1.2}L856.8,${y + 1.2}Z`} fill="none" stroke={r.color} strokeWidth={0.8} />
              )}
              <text x={865} y={y + 5} fontSize={14.5}>{r.label}</text>
            </g>
          );
        })}
      </svg>
    </div>
  );
}
